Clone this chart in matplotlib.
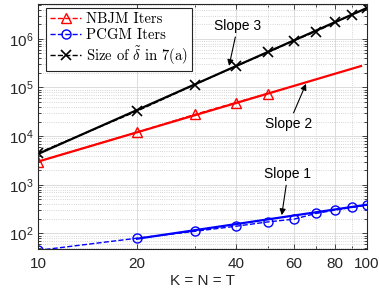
import math
import matplotlib
matplotlib.use('Agg')
import matplotlib.pyplot as plt
from matplotlib.ticker import FixedLocator, FuncFormatter, LogLocator, NullFormatter

plt.rcParams['font.family'] = ['Liberation Sans', 'DejaVu Sans']
plt.rcParams['mathtext.fontset'] = 'cm'

# ---- data ----
nbjm_k = [10, 20, 30, 40, 50]
nbjm_iters = [3000, 12000, 28000, 49000, 75000]

pcgm_k = [10, 20, 30, 40, 50, 60, 70, 80, 90, 100]
pcgm_iters = [45, 80, 111, 141, 173, 197, 258, 302, 343, 382]

delta_k = [10, 20, 30, 40, 50, 60, 70, 80, 90, 100]
delta_size = [4500, 32700, 115000, 275000, 525000, 920000, 1.41e6, 2.17e6, 3.12e6, 4.27e6]

slope3_k = [10, 100]
slope3_y = [4300, 4.3e6]
slope2_k = [10, 96]
slope2_y = [3000, 2.76e5]
slope1_k = [20, 100]
slope1_y = [78, 390]

xticks = [10, 20, 40, 60, 80, 100]
xminor = [30, 50, 70, 90]
yticks = [1e2, 1e3, 1e4, 1e5, 1e6]

fig = plt.figure(figsize=(3.79, 2.97), dpi=100)
ax = fig.add_axes([0.1003, 0.1616, 0.8677, 0.825])

# data series (dashed with markers)
ax.plot(nbjm_k, nbjm_iters, '--', color='red', lw=1.0, marker='^', ms=6.5,
        mfc='none', mew=1.0, label='NBJM Iters')
ax.plot(pcgm_k, pcgm_iters, '--', color='blue', lw=1.0, marker='o', ms=6.5,
        mfc='none', mew=1.0, label='PCGM Iters')
ax.plot(delta_k, delta_size, '--', color='black', lw=1.0, marker='x', ms=7,
        mew=1.2, label=r'Size of $\tilde{\delta}$ in 7(a)')

# slope reference lines (solid)
ax.plot(slope3_k, slope3_y, '-', color='black', lw=1.6)
ax.plot(slope2_k, slope2_y, '-', color='red', lw=1.6)
ax.plot(slope1_k, slope1_y, '-', color='blue', lw=1.6)

ax.set_xscale('log')
ax.set_yscale('log')
ax.set_xlim(10, 100)
ax.set_ylim(48, 5.2e6)

ax.xaxis.set_major_locator(FixedLocator(xticks))
ax.xaxis.set_minor_locator(FixedLocator(xminor))
ax.xaxis.set_major_formatter(FuncFormatter(lambda v, p: f'{int(round(v))}'))
ax.xaxis.set_minor_formatter(NullFormatter())

ax.yaxis.set_major_locator(FixedLocator(yticks))
ax.yaxis.set_minor_locator(LogLocator(base=10, subs=range(2, 10), numticks=20))
ax.yaxis.set_major_formatter(FuncFormatter(
    lambda v, p: r'$\mathregular{10^{%d}}$' % int(round(math.log10(v)))))
ax.yaxis.set_minor_formatter(NullFormatter())

ax.tick_params(which='both', direction='in', top=True, right=True, labelsize=11,
               width=0.6, colors='#262626')
ax.tick_params(which='major', length=3.5)
ax.tick_params(which='minor', length=2)
ax.tick_params(axis='x', pad=6)

ax.grid(True, which='major', color='#dcdcdc', lw=0.7, ls='-')
ax.grid(True, which='minor', color='#c8c8c8', lw=0.6, ls=':')
ax.set_axisbelow(True)
for s in ax.spines.values():
    s.set_color('#262626')
    s.set_linewidth(0.8)

ax.set_xlabel('K = N = T', fontsize=11, labelpad=2, color='#262626')

leg = ax.legend(loc='upper left', bbox_to_anchor=(0.024, 0.985), borderaxespad=0,
                prop={'family': 'cmr10', 'size': 10.6}, fancybox=False,
                framealpha=1, edgecolor='#262626', handlelength=2.1,
                handletextpad=0.3, labelspacing=0.15, borderpad=0.3)
leg.get_frame().set_linewidth(0.8)

arrow = dict(arrowstyle='-|>', color='black', lw=0.8, mutation_scale=9,
             shrinkA=1, shrinkB=0)
ax.annotate('Slope 3', xy=(38.1, 2.78e5), xytext=(40.5, 1.85e6), fontsize=10,
            ha='center', va='center', arrowprops=arrow)
ax.annotate('Slope 2', xy=(65.3, 1.19e5), xytext=(57.9, 1.78e4), fontsize=10,
            ha='center', va='center', arrowprops=arrow)
ax.annotate('Slope 1', xy=(55.1, 238), xytext=(57.5, 1660), fontsize=10,
            ha='center', va='center', arrowprops=arrow)

fig.savefig('out.png', dpi=100)
